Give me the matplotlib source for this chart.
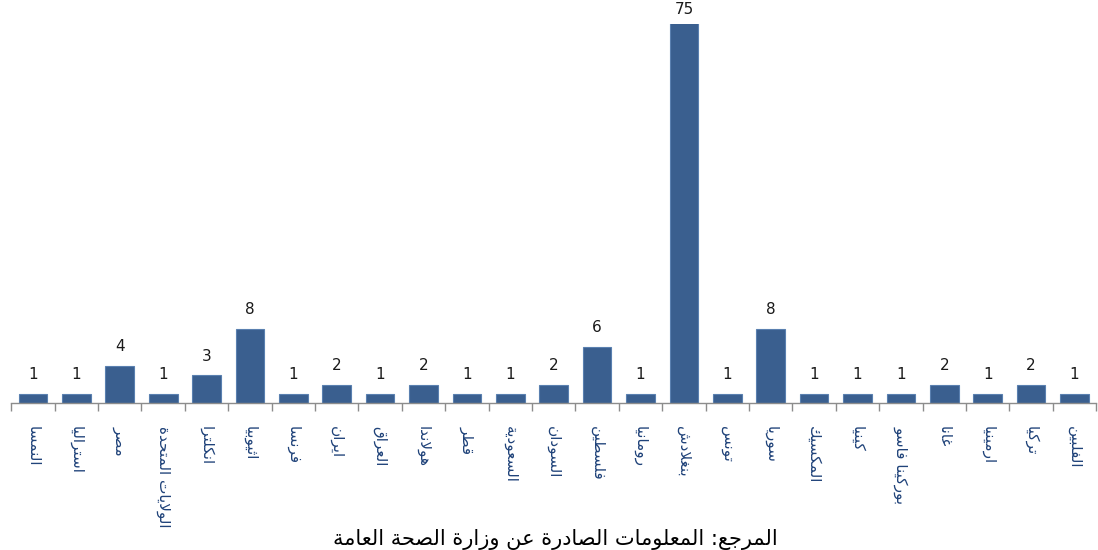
import matplotlib
matplotlib.use("Agg")
import matplotlib.pyplot as plt

# ---------------------------------------------------------------
# Data: cases by country of origin
# ---------------------------------------------------------------
countries = ["النمسا", "استراليا", "مصر", "الولايات المتحدة", "انكلترا",
             "اثيوبيا", "فرنسا", "ايران", "العراق", "هولاندا",
             "قطر", "السعودية", "السودان", "فلسطين", "رومانيا",
             "بنغلادش", "تونس", "سوريا", "المكسيك", "كينيا",
             "بوركينا فاسو", "غانا", "ارمينيا", "تركيا", "الفلبين"]
cases = [1, 1, 4, 1, 3, 8, 1, 2, 1, 2, 1, 1, 2, 6, 1, 75, 1, 8, 1, 1, 1, 2, 1, 2, 1]
caption = "المرجع: المعلومات الصادرة عن وزارة الصحة العامة"

# value axis is capped, the tallest bar runs off the top
YMAX = 40.5

BAR = "#3A5F8F"
EDGE = "#5A80B0"
LABEL = "#1F4279"
AXIS = "#8C8C8C"

# ---------------------------------------------------------------
# matplotlib has no Arabic shaping, so join letters by hand using
# the presentation forms and flip to visual (right-to-left) order.
# ---------------------------------------------------------------
DUAL = {"ب": 0xFE8F, "ت": 0xFE95, "ث": 0xFE99, "ج": 0xFE9D, "ح": 0xFEA1, "خ": 0xFEA5,
        "س": 0xFEB1, "ش": 0xFEB5, "ص": 0xFEB9, "ض": 0xFEBD, "ط": 0xFEC1, "ظ": 0xFEC5,
        "ع": 0xFEC9, "غ": 0xFECD, "ف": 0xFED1, "ق": 0xFED5, "ك": 0xFED9, "ل": 0xFEDD,
        "م": 0xFEE1, "ن": 0xFEE5, "ه": 0xFEE9, "ي": 0xFEF1, "ئ": 0xFE89}
RIGHT = {"ا": 0xFE8D, "أ": 0xFE83, "إ": 0xFE87, "آ": 0xFE81, "ؤ": 0xFE85, "ة": 0xFE93,
         "د": 0xFEA9, "ذ": 0xFEAB, "ر": 0xFEAD, "ز": 0xFEAF, "و": 0xFEED, "ى": 0xFEEF,
         "\uFEFB": 0xFEFB}


def shape(s):
    s = s.replace("لا", "\uFEFB")
    out = []
    for i, ch in enumerate(s):
        prev = s[i - 1] if i > 0 else ""
        nxt = s[i + 1] if i + 1 < len(s) else ""
        base = DUAL.get(ch, RIGHT.get(ch))
        if base is None:
            out.append(ch)
            continue
        after = prev in DUAL
        before = ch in DUAL and (nxt in DUAL or nxt in RIGHT)
        if after and before:
            off = 3
        elif after:
            off = 1
        elif before:
            off = 2
        else:
            off = 0
        out.append(chr(base + off))
    return "".join(reversed(out))


fig = plt.figure(figsize=(10.98, 5.5), dpi=100)
ax = fig.add_axes([0.0103, 0.2664, 0.988, 0.69])

x = list(range(len(cases)))
ax.bar(x, cases, width=0.66, color=BAR, edgecolor=EDGE, linewidth=0.8, zorder=2)

for xi, v in zip(x, cases):
    clipped = v > YMAX
    ax.annotate(str(v), xy=(xi, min(v, YMAX)), xytext=(0, 5 if clipped else 8.5),
                textcoords="offset points", ha="center", va="bottom",
                fontsize=11, color="#1A1A1A", annotation_clip=False)

ax.set_xlim(-0.5, len(cases) - 0.5)
ax.set_ylim(0, YMAX)

# category labels hang down from the axis, tick marks sit between bars
ax.set_xticks(x)
ax.set_xticklabels([shape(c) for c in countries], rotation=270,
                   fontsize=11, color=LABEL, family="DejaVu Sans")
ax.set_xticks([i - 0.5 for i in range(len(cases) + 1)], minor=True)
ax.tick_params(axis="x", which="major", length=0, pad=16)
ax.tick_params(axis="x", which="minor", length=6, color=AXIS, width=1)

ax.set_yticks([])
for side in ("top", "right", "left"):
    ax.spines[side].set_visible(False)
ax.spines["bottom"].set_color(AXIS)
ax.spines["bottom"].set_linewidth(1)

fig.text(0.506, 0.0, shape(caption), ha="center", va="bottom",
         fontsize=15, color="#000000", family="DejaVu Sans")

fig.savefig("out.png", dpi=100)
